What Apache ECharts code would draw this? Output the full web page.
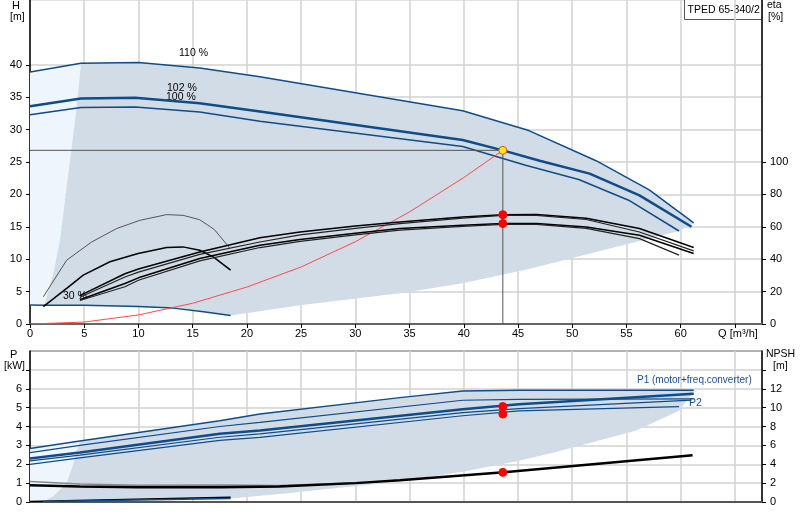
<!DOCTYPE html>
<html>
<head>
<meta charset="utf-8">
<script src="https://cdn.jsdelivr.net/npm/echarts@6/dist/echarts.min.js"></script>
<style>
  html, body { margin: 0; background: #fff; }
  #chart { width: 800px; height: 520px; }
</style>
</head>
<body>
<div id="chart"></div>
<script>
// ---- top chart: head H [m] against Q [m3/h]
const head110 = [[0, 38.9], [4.7, 40.25], [10, 40.35], [15.65, 39.5], [21.2, 38.15], [39.9, 32.9], [46, 29.85], [52.2, 25.2], [57.1, 20.7], [61.2, 15.6]]
const head102 = [[0, 33.6], [4.7, 34.8], [9.7, 34.9], [15.65, 34.05], [21.2, 32.8], [39.9, 28.4], [43.6, 26.8], [47, 25.2], [51.6, 23.2], [56.2, 19.85], [61, 15.0]]
const head100 = [[0, 32.3], [4.7, 33.4], [9.7, 33.5], [15.65, 32.7], [21.2, 31.3], [39.9, 27.4], [45.7, 24.5], [50.6, 22.3], [55.2, 19.1], [59.85, 14.35]]
const head30 = [[0, 2.95], [1.3, 2.9], [5, 2.9], [10, 2.7], [13.2, 2.45], [16, 1.9], [18.5, 1.3]]
const systemCurve = [[0, 0], [5, 0.3], [10, 1.4], [15, 3.2], [20, 5.7], [25, 8.8], [30, 12.7], [35, 17.3], [40, 22.6], [43.6, 26.8]]
// edges of the shaded working range
const leftEdgeH = [[4.7, 40.25], [4.3, 33.4], [3.53, 23.2], [2.76, 12.9], [2.15, 7.8], [1.3, 2.9]]
const lowerEdgeH = [[18.5, 1.3], [24.9, 2.9], [34.1, 4.75], [39.9, 6.3], [46, 8.5], [59.85, 14.35]]

// efficiency eta [%]
const etaA = [[4.6, 17.5], [8.75, 31], [10, 34], [15.65, 44.5], [21.2, 53.3], [24.9, 56.8], [30, 60.5], [34.1, 63], [39.9, 66], [43.6, 67.5], [46.7, 67.6], [51.3, 65.3], [56.2, 58.9], [61.2, 47.2]]
const etaB = [[4.6, 16.5], [8.75, 29], [10, 32], [15.65, 43], [21.2, 50.6], [24.9, 55], [30, 59], [34.1, 62], [39.9, 65.3], [43.6, 67], [46.7, 67], [51.3, 64.5], [56.2, 56.8], [61.2, 45.1]]
const etaC = [[4.6, 15], [8.75, 25], [10, 28.5], [15.65, 40.4], [21.2, 48.6], [24.9, 52.1], [30, 56], [34.1, 58.9], [39.9, 60.9], [43.6, 62], [46.7, 62], [51.3, 59.9], [56.2, 54.8], [61.2, 43.5]]
const etaD = [[4.6, 14.5], [8.75, 23], [10, 27], [15.65, 39], [21.2, 47.2], [24.9, 51], [30, 55], [34.1, 58], [39.9, 60.3], [43.6, 61.5], [46.7, 61.5], [51.3, 59], [56.2, 52.7], [59.85, 42.5]]
const etaLow1 = [[1.23, 16.8], [3.38, 39.4], [5.68, 50.6], [7.98, 58.9], [10.13, 64], [12.59, 67.5], [14.1, 67.1], [15.65, 64.4], [17, 58.3], [18.4, 47]]
const etaLow2 = [[1.23, 10.7], [3.38, 22], [4.91, 30.2], [7.37, 38.4], [9.97, 43.5], [12.6, 47.2], [14.1, 47.6], [15.65, 45.5], [16.9, 41.4], [18.5, 33.2]]

// duty point
const dutyQ = 43.6
const dutyH = 26.8
const etaDots = [[43.6, 67.5], [43.6, 62.0]]

// ---- bottom chart: power P [kW] and NPSH [m]
const p1_110 = [[0, 2.83], [4.6, 3.23], [17.5, 4.31], [21.2, 4.66], [34.1, 5.53], [39.9, 5.88], [45.1, 5.92], [61.2, 5.92]]
const p2_110 = [[0, 2.62], [4.6, 3.0], [17.5, 4.0], [21.2, 4.22], [39.9, 5.39], [45.1, 5.44], [61.2, 5.46]]
const p1_102 = [[0, 2.30], [4.6, 2.62], [17.5, 3.61], [21.2, 3.79], [39.9, 4.92], [45.1, 5.18], [61.2, 5.74]]
const p1_100 = [[0, 2.18], [4.6, 2.48], [17.5, 3.43], [21.2, 3.61], [39.9, 4.74], [45.1, 4.95], [61, 5.40]]
const p2_100 = [[0, 1.99], [4.6, 2.34], [17.5, 3.26], [21.2, 3.42], [39.9, 4.57], [45.1, 4.83], [59.85, 5.05]]
const p30a = [[0, 0.03], [18.5, 0.25]]
const p30b = [[1.2, 0.02], [18.5, 0.18]]
const leftEdgeP = [[4.6, 3.23], [4.0, 2.04], [3.38, 1.0], [2.15, 0.3], [1.2, 0.02]]
const lowerEdgeP = [[18.5, 0.18], [23, 0.43], [34.1, 1.08], [39.9, 1.6], [45.1, 2.18], [48.5, 2.65], [55.9, 3.79], [59.85, 4.83], [61.2, 5.85]]
const npsh1 = [[0, 1.78], [4.6, 1.63], [10, 1.57], [17.5, 1.57], [23, 1.65], [30, 2.0], [34.1, 2.3], [43.7, 3.14], [61.1, 4.95]]
const npsh2 = [[0, 2.16], [4.6, 1.92], [10, 1.78], [17.5, 1.8], [23, 1.75], [30, 2.03]]
const pDots = [[43.6, 5.06], [43.6, 4.66]]
const npshDots = [[43.6, 3.14]]

// tick labels
const hTicks = [0, 5, 10, 15, 20, 25, 30, 35, 40]
const etaTicks = [0, 20, 40, 60, 80, 100]
const pTicks = [0, 1, 2, 3, 4, 5, 6]
const npshTicks = [0, 2, 4, 6, 8, 10, 12]

const BLUE = '#0f4c8a'
const FONT = 'Liberation Sans, Arial, sans-serif'

const line = (data, xi, yi, color, width) => ({
  type: 'line', data, xAxisIndex: xi, yAxisIndex: yi,
  showSymbol: false, silent: true, z: 3, animation: false,
  lineStyle: { color, width }
})

const area = (points, xi, yi, fill) => ({
  type: 'custom', xAxisIndex: xi, yAxisIndex: yi, silent: true, z: 1,
  animation: false,
  data: [points[0]],
  renderItem: (params, api) => ({
    type: 'polygon',
    shape: { points: points.map(p => api.coord(p)) },
    style: { fill }
  })
})

const dots = (data, xi, yi, color, border) => ({
  type: 'scatter', data, xAxisIndex: xi, yAxisIndex: yi, silent: true, z: 6,
  symbolSize: 8, animation: false,
  itemStyle: { color, borderColor: border, borderWidth: 1, opacity: 1 }
})

// shaded polygons built from the edge arrays
const darkTop = [
  ...head110.filter(p => p[0] >= 4.7),
  ...lowerEdgeH.slice().reverse(),
  ...head30.filter(p => p[0] > 1.3 && p[0] < 18.5).reverse(),
  ...leftEdgeH.slice().reverse()
]
const paleTop = [head110[0], ...leftEdgeH, head30[0]]
const darkBottom = [
  ...p1_110.filter(p => p[0] >= 4.6),
  ...lowerEdgeP.slice().reverse(),
  ...p30b.slice(0, 1),
  ...leftEdgeP.slice().reverse()
]
const paleBottom = [p1_110[0], ...leftEdgeP, [0, 0]]

const labelStyle = { color: '#000', fontSize: 11, fontFamily: FONT }
const xAxisBase = {
  type: 'value', min: 0, max: 67.5, interval: 5,
  splitLine: { show: true, lineStyle: { color: '#d2d2d2', width: 1.5 } }
}

const chart = echarts.init(document.getElementById('chart'))
chart.setOption({
  backgroundColor: '#fff',
  animation: false,
  grid: [
    { left: 30, right: 38, top: 0, height: 324, show: true, borderColor: '#c8c8c8', borderWidth: 1 },
    { left: 30, right: 38, top: 351, height: 151, show: true, borderColor: '#666', borderWidth: 1 }
  ],
  xAxis: [
    Object.assign({}, xAxisBase, {
      gridIndex: 0,
      axisLine: { lineStyle: { color: '#666', width: 2 } },
      axisTick: { show: true, length: 4, lineStyle: { color: '#000' } },
      axisLabel: Object.assign({}, labelStyle, {
        margin: 4,
        formatter: v => (v === 65 ? '  Q [m³/h]' : String(v))
      })
    }),
    Object.assign({}, xAxisBase, {
      gridIndex: 1,
      axisLine: { lineStyle: { color: '#555', width: 2 } },
      axisTick: { show: false },
      axisLabel: { show: false }
    })
  ],
  yAxis: [
    {
      gridIndex: 0, type: 'value', min: 0, max: 50, interval: 5, position: 'left',
      axisLine: { show: true, lineStyle: { color: '#000', width: 1.5 } },
      axisTick: { show: true, length: 4, customValues: hTicks, lineStyle: { color: '#000' } },
      axisLabel: Object.assign({}, labelStyle, { customValues: hTicks }),
      splitLine: { show: true, lineStyle: { color: '#d2d2d2', width: 1.5 } }
    },
    {
      gridIndex: 0, type: 'value', min: 0, max: 200, interval: 20, position: 'right',
      axisLine: { show: true, lineStyle: { color: '#000', width: 1.5 } },
      axisTick: { show: true, length: 4, customValues: etaTicks, lineStyle: { color: '#000' } },
      axisLabel: Object.assign({}, labelStyle, { customValues: etaTicks }),
      splitLine: { show: false }
    },
    {
      gridIndex: 1, type: 'value', min: 0, max: 8, interval: 1, position: 'left',
      axisLine: { show: true, lineStyle: { color: '#000', width: 1.5 } },
      axisTick: { show: true, length: 4, customValues: [0, 1, 2, 3, 4, 5, 6, 7], lineStyle: { color: '#000' } },
      axisLabel: Object.assign({}, labelStyle, { customValues: pTicks }),
      splitLine: { show: true, lineStyle: { color: '#d2d2d2', width: 1.5 } }
    },
    {
      gridIndex: 1, type: 'value', min: 0, max: 16, interval: 2, position: 'right',
      axisLine: { show: true, lineStyle: { color: '#000', width: 1.5 } },
      axisTick: { show: true, length: 4, customValues: [0, 2, 4, 6, 8, 10, 12, 14], lineStyle: { color: '#000' } },
      axisLabel: Object.assign({}, labelStyle, { customValues: npshTicks }),
      splitLine: { show: false }
    }
  ],
  series: [
    // shaded ranges
    area(paleTop, 0, 0, '#eef5fc'),
    area(darkTop, 0, 0, '#d1dce7'),
    area(paleBottom, 1, 2, '#eef5fc'),
    area(darkBottom, 1, 2, '#d1dce7'),

    // head curves
    line(head110, 0, 0, BLUE, 1.5),
    line(head102, 0, 0, BLUE, 2.5),
    line(head100, 0, 0, BLUE, 1.5),
    line(head30, 0, 0, BLUE, 1.5),
    line(systemCurve, 0, 0, '#ff4a4a', 1),
    line([[0, dutyH], [dutyQ, dutyH]], 0, 0, '#555', 1),
    line([[dutyQ, dutyH], [dutyQ, 0]], 0, 0, '#555', 1),

    // efficiency curves
    line(etaLow1, 0, 1, '#555', 1),
    line(etaLow2, 0, 1, '#000', 1.5),
    line(etaA, 0, 1, '#000', 1.5),
    line(etaB, 0, 1, '#222', 1.2),
    line(etaC, 0, 1, '#000', 1.5),
    line(etaD, 0, 1, '#222', 1.2),

    dots(etaDots, 0, 1, '#ff0000', '#ff0000'),
    dots([[dutyQ, dutyH]], 0, 0, '#ffe81a', '#e2501a'),

    // power curves
    line(p1_110, 1, 2, BLUE, 1.5),
    line(p2_110, 1, 2, BLUE, 1.2),
    line(p1_102, 1, 2, BLUE, 2.5),
    line(p1_100, 1, 2, BLUE, 1.2),
    line(p2_100, 1, 2, BLUE, 1.2),
    line(p30a, 1, 2, '#000', 1.5),
    line(p30b, 1, 2, BLUE, 1.5),

    // NPSH curves
    line(npsh2, 1, 3, '#888', 1.5),
    line(npsh1, 1, 3, '#000', 2.5),

    dots(pDots, 1, 2, '#ff0000', '#ff0000'),
    dots(npshDots, 1, 3, '#ff0000', '#ff0000')
  ],
  graphic: [
    { type: 'text', left: 12, top: 0, z: 10, style: { text: 'H', font: '11px ' + FONT, fill: '#000' } },
    { type: 'text', left: 10, top: 12, z: 10, style: { text: '[m]', font: '10.5px ' + FONT, fill: '#000' } },
    { type: 'text', left: 767, top: 0, z: 10, style: { text: 'eta', font: '10.5px ' + FONT, fill: '#000' } },
    { type: 'text', left: 768, top: 12, z: 10, style: { text: '[%]', font: '10.5px ' + FONT, fill: '#000' } },
    { type: 'text', left: 10, top: 349, z: 10, style: { text: 'P', font: '11px ' + FONT, fill: '#000' } },
    { type: 'text', left: 4, top: 361, z: 10, style: { text: '[kW]', font: '10.5px ' + FONT, fill: '#000' } },
    { type: 'text', left: 766, top: 349, z: 10, style: { text: 'NPSH', font: '10.5px ' + FONT, fill: '#000' } },
    { type: 'text', left: 773, top: 361, z: 10, style: { text: '[m]', font: '10.5px ' + FONT, fill: '#000' } },
    {
      type: 'group', left: 684, top: -1, z: 10,
      children: [
        { type: 'rect', shape: { x: 0, y: 0, width: 78, height: 20 }, style: { fill: '#fff', stroke: '#555', lineWidth: 1 } },
        { type: 'text', x: 3, y: 5, style: { text: 'TPED 65-340/2', font: '10.5px ' + FONT, fill: '#000' } }
      ]
    },
    { type: 'text', left: 179, top: 48, z: 2, style: { text: '110 %', font: '10.5px ' + FONT, fill: '#000' } },
    { type: 'text', left: 167, top: 83, z: 2, style: { text: '102 %', font: '10.5px ' + FONT, fill: '#000' } },
    { type: 'text', left: 166, top: 92, z: 2, style: { text: '100 %', font: '10.5px ' + FONT, fill: '#000' } },
    { type: 'text', left: 63, top: 291, z: 2, style: { text: '30 %', font: '10.5px ' + FONT, fill: '#000' } },
    { type: 'text', left: 637, top: 375, z: 10, style: { text: 'P1 (motor+freq.converter)', font: '10px ' + FONT, fill: '#1c4f8a' } },
    { type: 'text', left: 689, top: 398, z: 10, style: { text: 'P2', font: '10.5px ' + FONT, fill: '#1c4f8a' } }
  ]
})
</script>
</body>
</html>
